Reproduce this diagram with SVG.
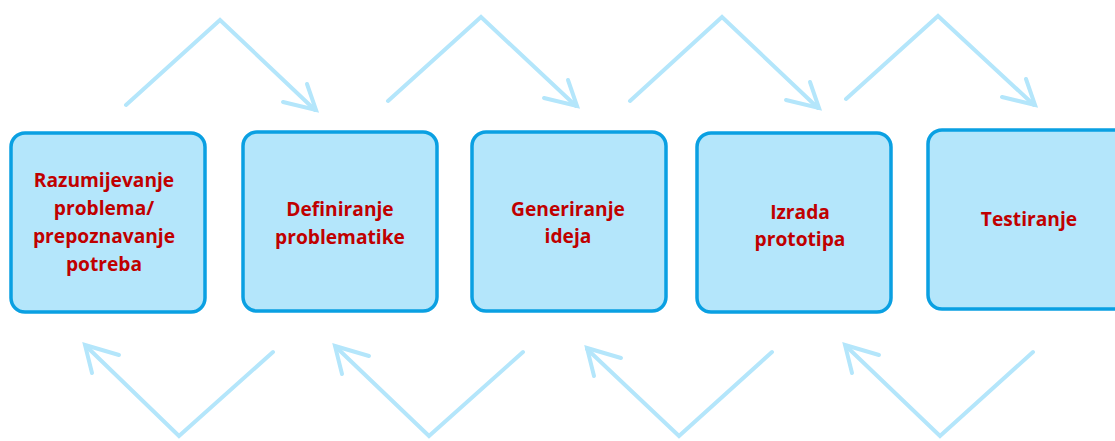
<svg xmlns="http://www.w3.org/2000/svg" width="1115" height="441" viewBox="0 0 1115 441">
<style>
.box{fill:#B4E6FB;stroke:#0AA0E2;stroke-width:3.5}
.t{font-family:"Open Sans","Liberation Sans",sans-serif;font-weight:bold;font-size:19.2px;fill:#C00000;text-anchor:middle}
.c{fill:none;stroke:#B4E6FB;stroke-width:4;stroke-linecap:round;stroke-linejoin:miter}
</style>
<rect width="1115" height="441" fill="#fff"/>
<g id="connectors">
<path class="c" d="M126,105 L220,20 L315,110"/>
<path class="c" d="M307,84 L316,110 L283,102"/>
<path class="c" d="M388,101 L481,17 L576,106"/>
<path class="c" d="M568,80 L577,106 L544,98"/>
<path class="c" d="M630,101 L722,17 L818,108"/>
<path class="c" d="M810,82 L819,108 L786,100"/>
<path class="c" d="M846,99 L938,16 L1034,105"/>
<path class="c" d="M1026,79 L1035,105 L1002,97"/>
<path class="c" d="M273,352 L179,436 L86,346"/>
<path class="c" d="M119,355 L85,345 L92,373"/>
<path class="c" d="M523,352 L429,436 L336,347"/>
<path class="c" d="M369,356 L335,346 L342,374"/>
<path class="c" d="M772,352 L679,436 L587,349"/>
<path class="c" d="M621,358 L587,348 L594,376"/>
<path class="c" d="M1033,352 L940,436 L846,346"/>
<path class="c" d="M879,355 L845,345 L852,373"/>
</g>
<g id="n1"><rect class="box" x="11" y="133" width="194" height="179" rx="14"/>
<text class="t" x="104" y="187">Razumijevanje</text><text class="t" x="104" y="215">problema/</text><text class="t" x="104" y="243">prepoznavanje</text><text class="t" x="104" y="271">potreba</text></g>
<g id="n2"><rect class="box" x="243" y="132" width="194" height="179" rx="14"/>
<text class="t" x="340" y="216">Definiranje</text><text class="t" x="340" y="244">problematike</text></g>
<g id="n3"><rect class="box" x="472" y="132" width="194" height="179" rx="14"/>
<text class="t" x="568" y="216">Generiranje</text><text class="t" x="568" y="243">ideja</text></g>
<g id="n4"><rect class="box" x="697" y="133" width="194" height="179" rx="14"/>
<text class="t" x="800" y="219">Izrada</text><text class="t" x="800" y="246">prototipa</text></g>
<g id="n5"><rect class="box" x="928" y="130" width="200" height="179" rx="14"/>
<text class="t" x="1029" y="226">Testiranje</text></g>
</svg>
